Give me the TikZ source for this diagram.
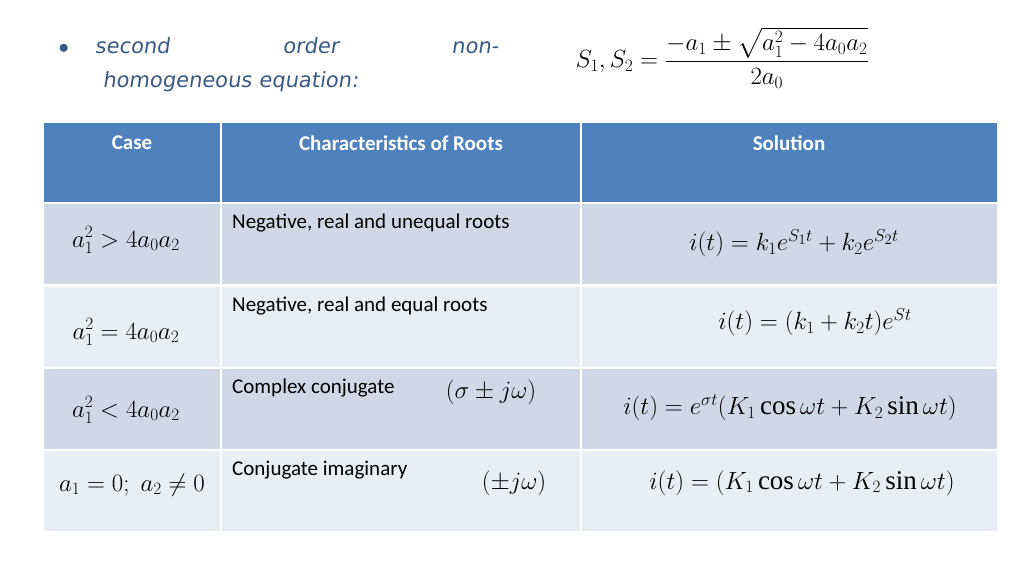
\documentclass[tikz,border=0pt]{standalone}
\usepackage{amsmath}
\usepackage{fontspec}
\setmainfont{Liberation Serif}
\newfontfamily\hdfont{Carlito}
\newfontfamily\handfont{DejaVu Sans}[FakeSlant=0.15]
\usetikzlibrary{positioning}
\definecolor{hdblue}{HTML}{4F81BD}
\definecolor{rowdark}{HTML}{D0D8E8}
\definecolor{rowlight}{HTML}{E9EDF4}
\tikzset{
    cell/.style={draw=white, line width=1.5pt, anchor=north west, inner sep=0pt},
    hdtext/.style={font=\hdfont\fontsize{21}{24}\selectfont\bfseries, text=white},
    roottext/.style={font=\hdfont\fontsize{21}{24}\selectfont, anchor=north west, inner sep=1pt},
    eqn/.style={font=\fontsize{27}{32}\selectfont}
}
\begin{document}
\begin{tikzpicture}[x=1pt, y=-1pt]
        \useasboundingbox (0, 0) rectangle (1024, 576);

        % Title and formula
        \node[font=\handfont\fontsize{21}{34}\selectfont, anchor=north west, align=left, text width=440pt, text=hdblue!70!black] (title) at (55, 34)
            {$\bullet$\hspace{26pt}second\hfill order\hfill non-\\\hspace{44pt}homogeneous equation:};
        \node[eqn, anchor=west] (formula) at (572, 58)
            {$S_1,S_2=\dfrac{-a_1\pm\sqrt{a_1^2-4a_0a_2}}{2a_0}$};

        % Header row
        \draw[cell, fill=hdblue] (43, 122) rectangle (221, 203);
        \draw[cell, fill=hdblue] (221, 122) rectangle (581, 203);
        \draw[cell, fill=hdblue] (581, 122) rectangle (998, 203);
        \node[hdtext] (hcase) at (132, 143) {Case};
        \node[hdtext] (hroots) at (401, 143) {Characteristics of Roots};
        \node[hdtext] (hsol) at (789, 143) {Solution};

        % Body rows
        \foreach \y/\c in {203/rowdark, 286/rowlight, 368/rowdark, 450/rowlight} {
            \draw[cell, fill=\c] (43, \y) rectangle (221, \y+82);
            \draw[cell, fill=\c] (221, \y) rectangle (581, \y+82);
            \draw[cell, fill=\c] (581, \y) rectangle (998, \y+82);
        }

        % Row 1
        \node[eqn] (case1) at (126, 240) {$a_1^2>4a_0a_2$};
        \node[roottext] (root1) at (231, 213) {Negative, real and unequal roots};
        \node[eqn] (sol1) at (794, 243) {$i(t)=k_1e^{S_1t}+k_2e^{S_2t}$};

        % Row 2
        \node[eqn] (case2) at (126, 332) {$a_1^2=4a_0a_2$};
        \node[roottext] (root2) at (231, 296) {Negative, real and equal roots};
        \node[eqn] (sol2) at (815, 322) {$i(t)=(k_1+k_2t)e^{St}$};

        % Row 3
        \node[eqn] (case3) at (126, 410) {$a_1^2<4a_0a_2$};
        \node[roottext] (root3) at (231, 378) {Complex conjugate};
        \node[eqn] (root3m) at (491, 392) {$(\sigma\pm j\omega)$};
        \node[eqn] (sol3) at (790, 408) {$i(t)=e^{\sigma t}(K_1\cos\omega t+K_2\sin\omega t)$};

        % Row 4
        \node[eqn] (case4) at (132, 485) {$a_1=0;\ a_2\neq0$};
        \node[roottext] (root4) at (231, 460) {Conjugate imaginary};
        \node[eqn] (root4m) at (514, 483) {$(\pm j\omega)$};
        \node[eqn] (sol4) at (802, 483) {$i(t)=(K_1\cos\omega t+K_2\sin\omega t)$};
\end{tikzpicture}
\end{document}
